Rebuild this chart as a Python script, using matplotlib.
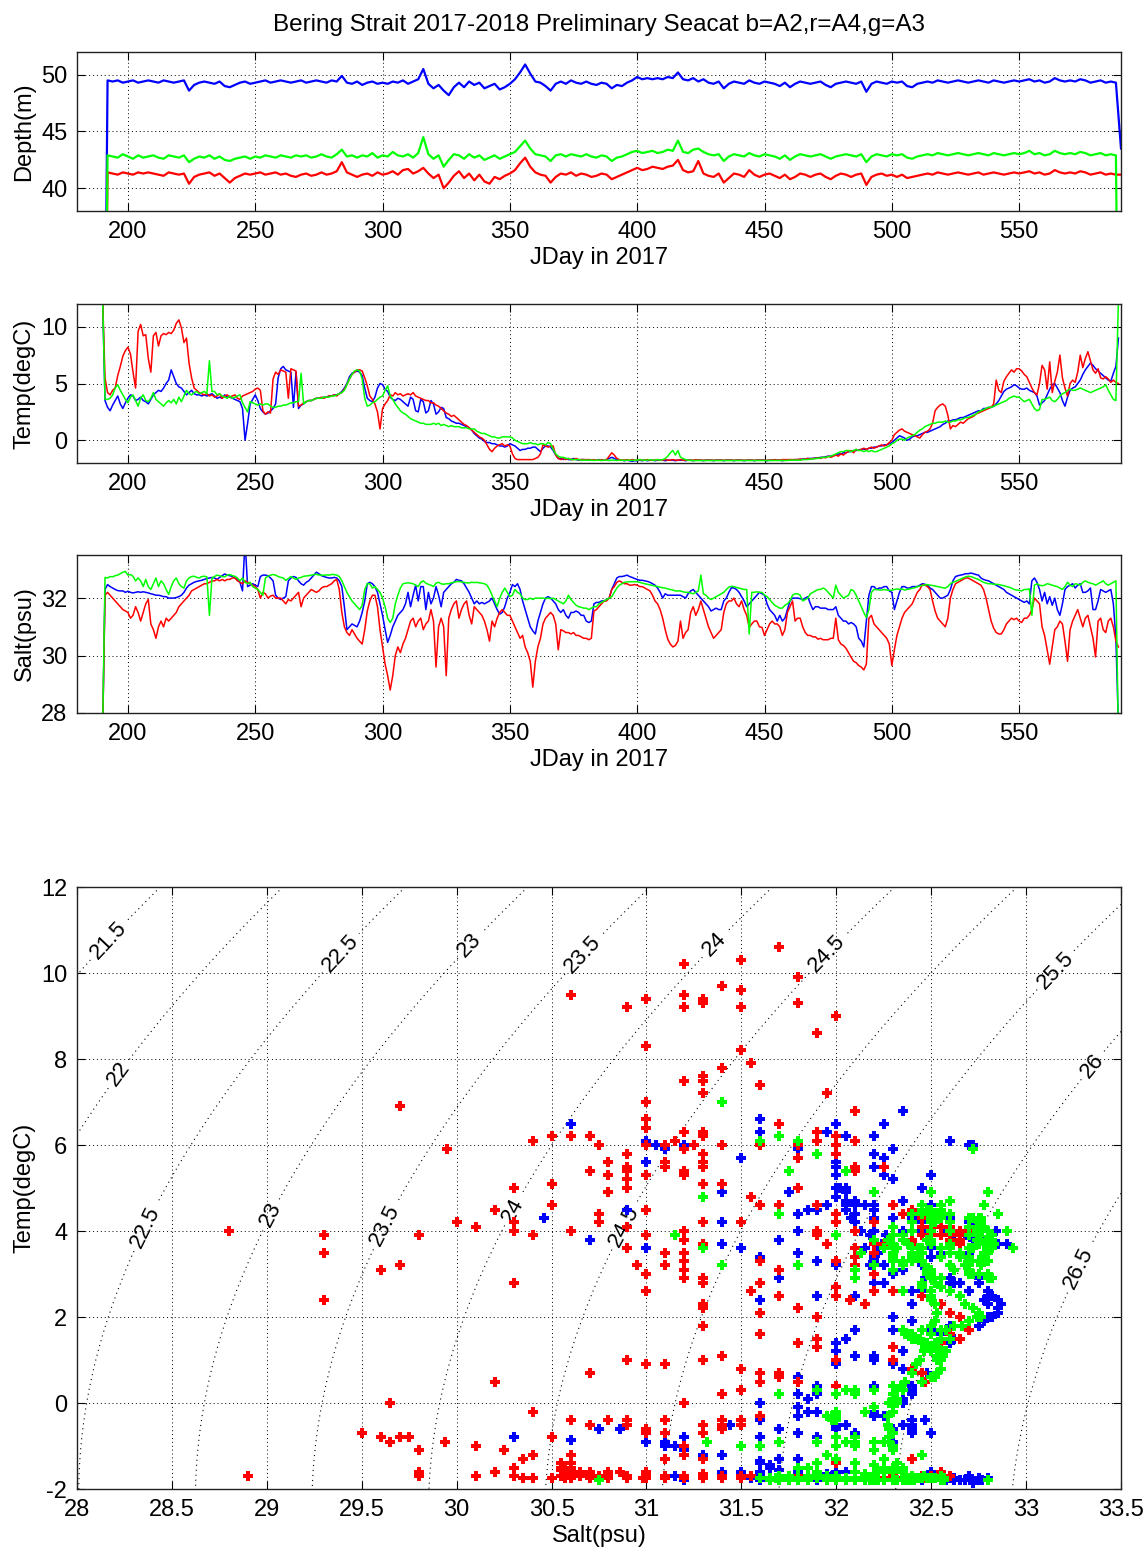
import numpy as np
import matplotlib
matplotlib.use('Agg')
import matplotlib.pyplot as plt

plt.rcParams['font.family'] = ['Liberation Sans', 'DejaVu Sans']
plt.rcParams['axes.unicode_minus'] = False

BLUE = '#0000ff'   # A2
RED = '#ff0000'    # A4
GREEN = '#00ff00'  # A3

TITLE = 'Bering Strait 2017-2018 Preliminary Seacat b=A2,r=A4,g=A3'

# daily samples, JDay 190..589 (first/last = out of water)
days = np.arange(190, 590)
# depth read every 2 days, JDay 190..590
depth_days = np.arange(190, 591, 2)

depth_blue = [
    0.0, 49.5, 49.4, 49.5, 49.3, 49.4, 49.5, 49.3, 49.4, 49.5,
    49.4, 49.3, 49.5, 49.4, 49.3, 49.4, 49.5, 48.6, 49.1, 49.3,
    49.4, 49.3, 49.2, 49.4, 49.0, 48.9, 49.1, 49.3, 49.4, 49.2,
    49.3, 49.4, 49.5, 49.3, 49.4, 49.5, 49.4, 49.3, 49.4, 49.5,
    49.3, 49.4, 49.5, 49.4, 49.3, 49.5, 49.4, 49.9, 49.3, 49.2,
    49.4, 49.1, 49.3, 49.4, 49.2, 49.3, 49.2, 49.4, 49.3, 49.5,
    49.2, 49.4, 49.6, 50.5, 49.2, 48.8, 49.1, 48.6, 48.2, 48.9,
    49.3, 48.9, 49.4, 49.1, 49.3, 48.8, 49.0, 49.2, 48.7, 48.9,
    49.2, 49.6, 50.2, 50.9, 50.1, 49.4, 49.3, 49.0, 48.6, 49.2,
    49.4, 49.2, 49.5, 49.3, 49.2, 49.4, 49.2, 49.1, 49.3, 49.2,
    48.8, 49.1, 49.0, 49.3, 49.5, 49.8, 49.6, 49.7, 49.6, 49.7,
    49.6, 49.8, 49.7, 50.2, 49.6, 49.5, 49.7, 49.4, 49.6, 49.3,
    49.2, 49.4, 48.8, 49.2, 49.4, 49.3, 49.2, 49.5, 49.3, 49.2,
    49.4, 49.3, 49.2, 49.0, 49.3, 48.9, 49.2, 49.4, 49.3, 49.2,
    49.3, 49.4, 49.1, 48.9, 49.2, 49.3, 49.4, 49.3, 49.2, 49.4,
    48.5, 49.2, 49.4, 49.3, 49.2, 49.4, 49.3, 49.4, 49.0, 48.9,
    49.2, 49.3, 49.4, 49.3, 49.5, 49.4, 49.3, 49.4, 49.5, 49.4,
    49.3, 49.4, 49.5, 49.4, 49.3, 49.5, 49.4, 49.3, 49.4, 49.5,
    49.4, 49.5, 49.6, 49.4, 49.5, 49.3, 49.4, 49.7, 49.5, 49.4,
    49.5, 49.4, 49.6, 49.5, 49.3, 49.4, 49.5, 49.3, 49.4, 49.3,
    43.5]

depth_green = [
    0.0, 42.9, 42.8, 42.7, 43.0, 42.8, 42.6, 42.9, 42.7, 42.8,
    42.9, 42.7, 42.6, 42.9, 42.8, 42.7, 42.9, 42.3, 42.6, 42.8,
    42.7, 42.9, 42.6, 42.8, 42.5, 42.4, 42.6, 42.7, 42.8, 42.6,
    42.8, 42.7, 42.9, 42.8, 42.7, 42.9, 42.8, 42.7, 42.9, 42.8,
    42.9, 42.7, 42.8, 43.0, 42.8, 42.7, 43.0, 43.4, 42.8, 42.9,
    42.7, 42.9, 42.8, 43.1, 42.7, 42.9, 42.8, 43.2, 42.9, 42.8,
    43.0, 42.7, 43.1, 44.5, 43.0, 42.6, 42.9, 41.9, 42.5, 43.0,
    42.9, 42.6, 43.0, 42.7, 42.9, 42.5, 42.7, 42.9, 42.6, 42.8,
    43.0, 43.2, 43.7, 44.2, 43.5, 43.0, 42.9, 42.8, 42.4, 42.9,
    43.0, 42.8, 43.0, 42.9, 42.8, 43.0, 42.8, 42.7, 42.9, 42.8,
    42.4, 42.7, 42.8, 43.0, 43.2, 43.3, 43.1, 43.2, 43.3, 43.1,
    43.2, 43.4, 43.3, 44.2, 43.2, 43.1, 43.4, 43.5, 43.2, 43.0,
    42.9, 43.0, 42.4, 42.8, 43.0, 42.9, 42.8, 43.1, 42.9, 42.8,
    43.0, 42.9, 42.8, 42.6, 42.9, 42.5, 42.8, 43.0, 42.9, 42.8,
    42.9, 43.0, 42.8, 42.6, 42.8, 42.9, 43.0, 42.9, 42.8, 43.0,
    42.3, 42.8, 43.0, 42.9, 42.8, 43.0, 42.9, 43.0, 42.7, 42.6,
    42.8, 42.9, 43.0, 42.9, 43.1, 43.0, 42.9, 43.0, 43.1, 43.0,
    42.9, 43.0, 43.1, 43.0, 42.9, 43.1, 43.0, 42.9, 43.0, 43.1,
    43.0, 43.1, 43.3, 43.0, 43.1, 42.9, 43.0, 43.3, 43.1, 43.0,
    43.1, 43.0, 43.2, 43.1, 42.9, 43.0, 43.1, 42.9, 43.0, 42.9,
    0.0]

depth_red = [
    0.0, 41.4, 41.3, 41.2, 41.4, 41.3, 41.2, 41.4, 41.3, 41.4,
    41.3, 41.2, 41.1, 41.4, 41.3, 41.2, 41.3, 40.4, 41.0, 41.2,
    41.3, 41.4, 41.1, 41.3, 40.9, 40.5, 40.9, 41.1, 41.3, 41.2,
    41.3, 41.4, 41.2, 41.3, 41.4, 41.2, 41.3, 41.1, 41.0, 41.2,
    41.3, 41.1, 41.2, 41.4, 41.2, 41.3, 41.5, 42.3, 41.4, 41.2,
    41.0, 41.2, 41.3, 41.1, 41.4, 41.2, 41.3, 41.5, 41.2, 41.6,
    41.7, 41.3, 41.5, 41.8, 41.3, 40.9, 41.2, 40.0, 40.5, 41.1,
    41.5, 40.9, 41.3, 40.7, 41.2, 40.6, 40.4, 41.0, 40.8, 41.1,
    41.3, 41.6, 42.2, 42.7, 41.9, 41.4, 41.2, 41.1, 40.5, 41.0,
    41.3, 41.2, 41.4, 41.1, 41.3, 41.2, 41.0, 41.1, 41.3, 41.2,
    40.8, 41.0, 41.2, 41.4, 41.6, 41.8, 41.6, 41.7, 41.9, 41.8,
    41.7, 41.9, 42.0, 42.5, 41.6, 41.4, 41.5, 42.4, 41.3, 41.1,
    41.0, 41.3, 40.5, 40.9, 41.3, 41.2, 41.0, 41.6, 41.2, 41.0,
    41.2, 41.3, 41.1, 40.9, 41.2, 40.8, 41.0, 41.3, 41.2, 41.0,
    41.2, 41.3, 41.0, 40.8, 41.1, 41.3, 41.2, 41.0, 41.2, 41.3,
    40.3, 41.0, 41.2, 41.3, 41.1, 41.2, 41.0, 41.2, 40.9, 41.0,
    41.1, 41.2, 41.3, 41.2, 41.4, 41.3, 41.2, 41.3, 41.4, 41.3,
    41.2, 41.3, 41.4, 41.2, 41.3, 41.4, 41.3, 41.2, 41.3, 41.4,
    41.3, 41.4, 41.5, 41.3, 41.4, 41.2, 41.3, 41.6, 41.4, 41.3,
    41.4, 41.3, 41.5, 41.4, 41.2, 41.3, 41.4, 41.2, 41.3, 41.2,
    41.2]

temp_blue = [
    13.0, 3.5, 2.9, 2.6, 3.1, 3.5, 3.9, 3.2, 2.8, 3.3,
    3.7, 4.0, 3.9, 3.5, 3.6, 3.8, 3.5, 3.4, 3.2, 3.6,
    4.0, 4.2, 4.4, 4.3, 4.6, 5.0, 5.3, 6.2, 5.6, 5.0,
    4.7, 4.6, 4.3, 4.0, 4.2, 4.4, 4.1, 4.0, 4.0, 3.9,
    4.0, 3.9, 4.0, 4.1, 3.9, 3.7, 3.8, 3.7, 4.0, 3.8,
    3.8, 3.7, 3.6, 3.5, 3.4, 2.8, 0.0, 1.5, 3.2, 3.6,
    4.0, 3.5, 2.8, 2.5, 2.3, 2.4, 2.6, 2.8, 3.2, 5.5,
    6.3, 6.5, 6.2, 6.1, 6.0, 2.9, 6.0, 2.8, 3.1, 3.2,
    3.4, 3.5, 3.5, 3.6, 3.7, 3.7, 3.7, 3.8, 3.8, 3.9,
    3.9, 4.0, 4.0, 4.1, 4.3, 4.6, 5.0, 5.6, 5.9, 6.0,
    6.1, 6.0, 5.7, 4.6, 3.7, 3.5, 3.4, 3.8, 4.6, 5.0,
    4.9, 4.5, 4.3, 3.8, 3.6, 3.5, 3.7, 3.6, 3.4, 3.2,
    3.0, 3.8, 3.6, 2.6, 2.5, 3.6, 3.4, 2.4, 2.6, 3.5,
    3.2, 2.3, 2.5, 2.9, 2.8, 2.0, 1.9, 1.7, 1.6, 1.5,
    1.5, 1.4, 1.3, 1.2, 1.1, 0.9, 0.6, 0.4, 0.2, 0.1,
    -0.1, -0.2, -0.2, -0.3, -0.3, -0.4, -0.5, -0.5, -0.6, -0.5,
    -0.3, -0.4, -0.5, -0.7, -0.9, -0.8, -0.8, -0.7, -0.7, -0.6,
    -0.6, -0.8, -1.0, -0.7, -0.5, -0.5, -0.6, -0.9, -1.3, -1.6,
    -1.6, -1.7, -1.6, -1.7, -1.7, -1.6, -1.7, -1.75, -1.7, -1.7,
    -1.75, -1.7, -1.75, -1.75, -1.75, -1.7, -1.75, -1.75, -1.7, -1.6,
    -1.5, -1.6, -1.7, -1.75, -1.75, -1.8, -1.75, -1.8, -1.85, -1.8,
    -1.8, -1.75, -1.8, -1.75, -1.8, -1.75, -1.75, -1.8, -1.75, -1.75,
    -1.75, -1.8, -1.75, -1.75, -1.75, -1.8, -1.75, -1.75, -1.75, -1.8,
    -1.75, -1.75, -1.8, -1.75, -1.75, -1.75, -1.8, -1.75, -1.75, -1.75,
    -1.8, -1.75, -1.75, -1.75, -1.8, -1.75, -1.75, -1.75, -1.8, -1.75,
    -1.75, -1.75, -1.8, -1.75, -1.75, -1.75, -1.8, -1.75, -1.75, -1.75,
    -1.75, -1.8, -1.75, -1.75, -1.75, -1.75, -1.75, -1.8, -1.75, -1.75,
    -1.75, -1.75, -1.7, -1.7, -1.7, -1.65, -1.65, -1.6, -1.6, -1.6,
    -1.55, -1.55, -1.5, -1.5, -1.45, -1.4, -1.4, -1.35, -1.3, -1.2,
    -1.2, -1.1, -1.1, -1.0, -1.0, -0.9, -0.9, -0.85, -0.8, -0.8,
    -0.8, -0.7, -0.7, -0.6, -0.6, -0.5, -0.5, -0.4, -0.4, -0.3,
    -0.2, 0.0, 0.2, 0.4, 0.3, 0.2, 0.0, 0.1, 0.3, 0.4,
    0.4, 0.5, 0.6, 0.7, 0.7, 0.8, 0.9, 1.0, 1.1, 1.2,
    1.4, 1.5, 1.7, 1.7, 1.8, 1.8, 1.9, 2.0, 2.0, 2.1,
    2.2, 2.3, 2.4, 2.5, 2.6, 2.6, 2.8, 2.8, 2.9, 2.9,
    3.0, 3.2, 3.5, 3.9, 4.3, 4.5, 4.6, 4.7, 4.9, 4.8,
    4.6, 4.5, 4.5, 4.6, 4.4, 4.3, 4.2, 3.9, 3.1, 3.3,
    3.5, 4.0, 4.5, 4.9, 5.0, 4.6, 4.2, 3.5, 3.0, 3.8,
    4.4, 4.6, 4.7, 5.0, 5.3, 5.8, 6.2, 6.5, 6.8, 6.6,
    6.3, 6.1, 5.9, 5.7, 5.5, 5.3, 5.2, 5.9, 6.5, 9.0]

temp_red = [
    13.0, 5.5, 4.2, 4.0, 4.4, 4.6, 5.7, 6.5, 7.4, 7.9,
    8.2, 7.6, 6.0, 4.6, 9.6, 10.2, 9.2, 9.3, 7.2, 6.0,
    9.2, 9.5, 8.3, 9.2, 9.4, 9.3, 9.5, 9.4, 9.7, 10.3,
    10.6, 9.9, 8.6, 9.0, 6.8, 5.5, 4.6, 4.4, 4.2, 4.1,
    4.0, 4.1, 3.9, 4.0, 3.8, 3.9, 4.1, 3.7, 3.9, 4.0,
    3.8, 3.9, 4.0, 3.7, 3.6, 3.9, 4.0, 4.1, 4.2, 4.3,
    4.5, 4.6, 4.4, 2.6, 2.3, 2.5, 2.4, 5.4, 6.0, 5.8,
    6.2, 6.1, 6.0, 3.7, 6.3, 6.2, 6.1, 3.0, 3.1, 3.3,
    3.4, 3.5, 3.5, 3.6, 3.7, 3.7, 3.8, 3.7, 3.8, 3.9,
    3.9, 4.0, 3.9, 4.1, 4.2, 4.5, 4.9, 5.4, 5.8, 6.0,
    6.2, 6.2, 6.1, 5.5, 4.8, 3.9, 3.6, 3.2, 2.5, 1.0,
    2.8, 3.2, 3.5, 4.0, 3.9, 4.2, 4.0, 4.1, 3.9, 4.0,
    4.1, 4.0, 4.2, 3.9, 3.8, 3.7, 3.6, 3.5, 3.5, 3.3,
    3.3, 3.1, 3.0, 2.8, 2.6, 2.4, 2.3, 2.1, 2.2, 2.0,
    1.8, 1.6, 1.4, 1.3, 1.1, 0.9, 0.7, 0.5, 0.3, 0.2,
    0.0, -0.4, -0.8, -1.0, -0.7, -0.5, -0.4, -0.3, -0.5, -0.4,
    -0.5, -1.2, -1.6, -1.7, -1.7, -1.7, -1.7, -1.7, -1.7, -1.7,
    -1.6, -1.5, -1.2, -0.4, -0.5, -0.6, -0.5, -0.5, -1.3, -1.6,
    -1.7, -1.6, -1.7, -1.6, -1.7, -1.7, -1.6, -1.7, -1.7, -1.7,
    -1.7, -1.7, -1.75, -1.7, -1.75, -1.75, -1.7, -1.75, -1.7, -1.4,
    -1.1, -1.3, -1.6, -1.7, -1.75, -1.75, -1.7, -1.75, -1.7, -1.75,
    -1.75, -1.7, -1.75, -1.75, -1.7, -1.75, -1.75, -1.75, -1.7, -1.75,
    -1.75, -1.7, -1.75, -1.75, -1.7, -1.75, -1.75, -1.7, -1.75, -1.75,
    -1.75, -1.75, -1.75, -1.7, -1.75, -1.75, -1.75, -1.75, -1.75, -1.75,
    -1.75, -1.75, -1.75, -1.75, -1.75, -1.75, -1.75, -1.75, -1.75, -1.75,
    -1.75, -1.75, -1.75, -1.75, -1.75, -1.75, -1.75, -1.75, -1.75, -1.75,
    -1.75, -1.75, -1.75, -1.75, -1.7, -1.75, -1.75, -1.7, -1.7, -1.7,
    -1.7, -1.7, -1.7, -1.7, -1.65, -1.7, -1.65, -1.6, -1.65, -1.6,
    -1.6, -1.55, -1.6, -1.5, -1.55, -1.4, -1.5, -1.4, -1.3, -1.4,
    -1.2, -1.3, -1.1, -1.0, -0.9, -1.1, -0.8, -0.9, -0.8, -0.7,
    -0.8, -0.7, -0.6, -0.7, -0.6, -0.5, -0.4, -0.5, -0.4, -0.2,
    0.0, 0.5, 0.7, 0.9, 1.0, 0.8, 0.7, 0.6, 0.5, 0.4,
    0.3, 0.2, 0.5, 0.7, 0.8, 1.0, 1.5, 2.6, 2.9, 3.1,
    3.2, 3.0, 2.2, 1.0, 1.3, 1.2, 1.4, 1.6, 1.5, 1.7,
    1.9, 2.0, 2.1, 2.3, 2.4, 2.5, 2.6, 2.7, 2.8, 2.9,
    3.2, 5.3, 4.4, 4.2, 5.2, 5.6, 5.9, 6.2, 6.0, 6.3,
    6.3, 6.1, 5.8, 5.6, 5.1, 4.6, 4.2, 4.0, 5.0, 6.6,
    6.2, 4.5, 6.9, 4.2, 5.2, 6.0, 7.5, 5.5, 4.6, 3.9,
    5.0, 5.3, 5.1, 6.0, 7.5, 6.4, 7.2, 7.8, 7.0, 6.2,
    5.9, 6.3, 5.5, 5.4, 5.6, 5.4, 5.1, 5.3, 5.1, 5.0]

temp_green = [
    13.0, 3.6, 3.6, 3.7, 4.0, 4.6, 4.9, 4.4, 4.0, 3.6,
    3.3, 3.8, 4.0, 3.5, 3.0, 3.7, 4.0, 3.5, 3.4, 3.7,
    4.2, 3.6, 3.4, 3.2, 3.0, 3.3, 3.5, 3.3, 3.6, 3.2,
    3.8, 3.4, 3.9, 4.4, 4.1, 4.0, 4.2, 4.3, 4.1, 4.2,
    4.3, 4.1, 7.0, 4.3, 4.3, 4.0, 4.1, 3.9, 3.8, 3.7,
    3.9, 3.7, 3.8, 3.9, 4.0, 3.3, 2.9, 2.5, 3.4, 3.3,
    3.2, 3.1, 3.2, 3.1, 3.2, 3.2, 3.0, 2.9, 2.9, 3.0,
    3.0, 3.1, 3.1, 3.2, 3.3, 3.3, 3.4, 3.4, 5.9, 3.2,
    3.4, 3.5, 3.5, 3.6, 3.7, 3.7, 3.7, 3.8, 3.8, 3.8,
    3.9, 3.9, 4.0, 4.1, 4.2, 4.4, 4.9, 5.4, 5.8, 6.1,
    6.2, 6.1, 5.4, 3.7, 3.0, 3.1, 3.3, 3.4, 3.6, 3.8,
    3.9, 4.4, 4.8, 3.9, 3.6, 3.2, 2.9, 2.6, 2.4, 2.3,
    2.1, 1.9, 1.8, 1.7, 1.6, 1.5, 1.5, 1.4, 1.4, 1.4,
    1.5, 1.4, 1.5, 1.3, 1.4, 1.3, 1.2, 1.3, 1.2, 1.2,
    1.2, 1.1, 1.1, 1.1, 1.0, 1.0, 1.0, 0.8, 0.7, 0.6,
    0.6, 0.5, 0.4, 0.3, 0.3, 0.2, 0.2, 0.3, 0.3, 0.3,
    0.3, 0.2, 0.0, -0.1, -0.2, -0.3, -0.3, -0.3, -0.2, -0.3,
    -0.3, -0.4, -0.3, -0.3, -0.4, -0.2, -0.3, -0.8, -1.2, -1.4,
    -1.5, -1.5, -1.6, -1.6, -1.7, -1.7, -1.7, -1.7, -1.75, -1.75,
    -1.75, -1.75, -1.75, -1.78, -1.75, -1.75, -1.78, -1.75, -1.75, -1.78,
    -1.75, -1.75, -1.78, -1.75, -1.75, -1.78, -1.75, -1.75, -1.78, -1.75,
    -1.75, -1.7, -1.75, -1.75, -1.75, -1.7, -1.75, -1.75, -1.7, -1.75,
    -1.7, -1.6, -1.4, -1.1, -0.9, -1.3, -0.9, -1.5, -1.6, -1.7,
    -1.75, -1.78, -1.78, -1.78, -1.78, -1.78, -1.78, -1.78, -1.78, -1.78,
    -1.78, -1.78, -1.78, -1.78, -1.78, -1.78, -1.78, -1.78, -1.78, -1.78,
    -1.78, -1.78, -1.78, -1.78, -1.78, -1.78, -1.78, -1.78, -1.78, -1.78,
    -1.78, -1.78, -1.78, -1.78, -1.78, -1.78, -1.78, -1.78, -1.78, -1.78,
    -1.75, -1.75, -1.75, -1.75, -1.75, -1.7, -1.7, -1.7, -1.65, -1.65,
    -1.6, -1.6, -1.55, -1.5, -1.5, -1.45, -1.4, -1.3, -1.2, -1.1,
    -1.0, -1.0, -0.9, -0.9, -1.0, -0.9, -0.8, -0.9, -0.9, -1.0,
    -0.9, -1.0, -0.9, -1.0, -1.0, -0.9, -0.8, -0.7, -0.6, -0.5,
    -0.3, -0.2, 0.0, 0.1, 0.1, 0.0, 0.2, 0.3, 0.4, 0.5,
    0.7, 0.9, 1.0, 1.2, 1.3, 1.4, 1.5, 1.5, 1.6, 1.6,
    1.6, 1.7, 1.6, 1.6, 1.7, 1.7, 1.8, 1.8, 1.9, 2.0,
    2.0, 2.1, 2.2, 2.3, 2.5, 2.6, 2.7, 2.8, 2.9, 2.9,
    3.0, 3.1, 3.2, 3.3, 3.4, 3.5, 3.7, 3.8, 3.9, 3.8,
    3.8, 3.6, 3.4, 3.5, 3.6, 3.2, 2.8, 2.6, 2.7, 3.6,
    3.6, 3.7, 3.8, 3.5, 3.4, 3.6, 3.9, 4.1, 4.2, 4.4,
    4.5, 4.4, 4.4, 4.5, 4.6, 4.5, 4.4, 4.3, 4.2, 4.3,
    4.4, 4.5, 4.6, 4.7, 4.9, 4.4, 4.0, 3.6, 3.5, 12.5]

salt_blue = [
    27.0, 32.3, 32.47, 32.4, 32.35, 32.3, 32.26, 32.25, 32.25, 32.2,
    32.24, 32.2, 32.18, 32.2, 32.22, 32.2, 32.22, 32.2, 32.18, 32.15,
    32.13, 32.1, 32.1, 32.08, 32.05, 32.05, 32.0, 32.0, 32.0, 32.02,
    32.05, 32.1, 32.2, 32.35, 32.45, 32.5, 32.55, 32.58, 32.6, 32.62,
    32.65, 32.68, 32.7, 32.72, 32.7, 32.65, 32.72, 32.78, 32.84, 32.8,
    32.78, 32.75, 32.7, 32.65, 32.55, 32.25, 34.0, 32.4, 32.45, 32.5,
    32.45, 32.4, 32.75, 32.8, 32.8, 32.78, 32.7, 32.6, 32.1, 32.0,
    31.95, 32.0, 32.05, 32.6, 32.7, 32.75, 32.72, 32.6, 32.5, 32.45,
    32.55, 32.6, 32.7, 32.8, 32.9, 32.85, 32.78, 32.75, 32.72, 32.7,
    32.7, 32.72, 32.7, 32.6, 32.4, 31.7, 30.9, 31.0, 31.1, 31.05,
    31.0, 31.2, 31.5, 31.9, 32.5, 32.55, 32.5, 32.4, 32.2, 31.8,
    31.4, 30.9, 30.46, 30.7, 31.0, 31.2, 31.4, 31.5, 31.6, 31.8,
    32.2, 31.7, 32.1, 32.45, 31.9, 32.4, 32.4, 31.6, 32.2, 31.8,
    32.0, 32.4, 32.1, 31.7, 32.2, 32.3, 32.4, 32.5, 32.55, 32.65,
    32.62, 32.6, 32.5, 32.35, 32.2, 32.0, 31.8, 31.9, 31.8, 31.85,
    31.8, 31.85, 31.9, 32.0, 31.8, 31.6, 31.44, 31.5, 31.7, 32.0,
    32.2, 32.47, 32.4, 32.5, 32.3, 31.9, 31.6, 31.3, 31.0, 30.86,
    30.75, 31.2, 31.5, 31.8, 32.0, 32.05, 32.0, 31.9, 31.8, 31.6,
    31.5, 31.6, 31.4, 31.3, 31.5, 31.5, 31.55, 31.5, 31.4, 31.4,
    31.2, 31.15, 31.2, 31.8, 31.85, 31.85, 31.9, 31.9, 31.95, 32.0,
    32.3, 32.5, 32.7, 32.75, 32.75, 32.77, 32.8, 32.75, 32.72, 32.68,
    32.65, 32.62, 32.62, 32.6, 32.58, 32.55, 32.5, 32.45, 32.35, 32.2,
    32.0, 32.15, 32.1, 32.1, 32.1, 32.1, 32.1, 32.1, 32.05, 32.0,
    32.15, 32.25, 32.3, 32.2, 32.1, 32.0, 31.9, 31.8, 31.7, 31.55,
    31.6, 31.65, 31.6, 31.6, 31.9, 32.0, 32.2, 32.36, 32.35, 32.3,
    32.2, 32.05, 31.9, 31.7, 31.8, 31.9, 32.0, 32.1, 32.2, 32.15,
    32.1, 31.8, 31.6, 31.5, 31.4, 31.2, 31.4, 31.2, 31.3, 31.6,
    31.9, 32.0, 32.0, 32.0, 31.98, 31.95, 32.0, 32.05, 31.8, 31.6,
    31.7, 31.7, 31.65, 31.65, 31.65, 31.6, 31.6, 31.6, 31.7, 31.4,
    31.3, 31.2, 31.2, 31.1, 31.15, 31.1, 31.0, 30.6, 30.5, 30.3,
    31.2, 32.1, 32.4, 32.4, 32.3, 32.35, 32.35, 32.4, 32.4, 32.25,
    32.2, 31.6, 31.9, 32.2, 32.4, 32.4, 32.35, 32.35, 32.4, 32.4,
    32.4, 32.45, 32.5, 32.48, 32.45, 32.35, 32.3, 32.2, 32.1, 32.0,
    32.0, 32.05, 32.1, 32.3, 32.6, 32.75, 32.78, 32.8, 32.82, 32.85,
    32.85, 32.87, 32.85, 32.82, 32.8, 32.7, 32.65, 32.62, 32.6, 32.55,
    32.5, 32.45, 32.4, 32.35, 32.3, 32.2, 32.15, 32.1, 32.05, 32.0,
    31.95, 31.9, 31.85, 31.9, 31.8, 32.6, 32.7, 32.55, 32.3, 31.9,
    32.2, 31.8, 32.05, 31.75, 32.0, 31.6, 31.4, 31.8, 32.3, 32.4,
    32.45, 32.5, 32.35, 32.45, 32.5, 32.2, 32.2, 32.25, 32.35, 31.6,
    31.6, 31.9, 32.3, 32.25, 32.2, 32.25, 32.3, 31.8, 30.6, 27.5]

salt_red = [
    27.0, 32.1, 32.2, 32.1, 32.0, 31.9, 31.8, 31.7, 31.6, 31.55,
    31.5, 31.3, 31.4, 31.7, 31.5, 31.2, 31.5, 31.8, 31.95, 31.1,
    30.9, 30.6, 31.0, 31.2, 31.0, 31.3, 31.2, 31.3, 31.4, 31.5,
    31.7, 31.8, 31.9, 32.0, 32.1, 32.25, 32.3, 32.35, 32.4, 32.45,
    32.5, 32.5, 32.55, 32.6, 32.6, 32.65, 32.6, 32.65, 32.6, 32.65,
    32.65, 32.7, 32.7, 32.6, 32.55, 32.5, 32.6, 32.55, 32.5, 32.45,
    32.4, 32.3, 32.0, 32.2, 32.15, 32.0, 32.07, 32.1, 32.0, 32.0,
    32.0, 31.9, 31.8, 31.95, 31.9, 32.0, 32.1, 32.2, 31.7, 32.0,
    32.1, 32.2, 32.3, 32.25, 32.2, 32.25, 32.35, 32.4, 32.4, 32.45,
    32.5, 32.6, 32.65, 32.3, 31.5, 31.0, 30.8, 30.7, 30.9, 30.75,
    30.6, 30.5, 30.4, 30.9, 31.55, 31.9, 32.1, 32.1, 31.7, 30.9,
    30.3, 29.7, 29.3, 28.8, 29.3, 30.0, 30.3, 30.1, 30.4, 30.6,
    30.9, 31.2, 31.3, 31.0, 31.2, 31.3, 30.9, 31.1, 31.2, 31.6,
    31.2, 29.6, 31.0, 31.3, 31.0, 29.3, 31.3, 31.6, 31.8, 31.9,
    31.3, 31.6, 31.8, 31.9, 31.4, 31.1, 31.7, 31.6, 31.5, 31.4,
    31.2, 30.9, 30.5, 31.2, 31.0, 31.3, 31.5, 31.6, 31.5, 31.4,
    31.4, 31.2, 31.0, 30.8, 30.6, 30.7, 30.3, 30.1, 29.8, 28.9,
    29.8, 30.3, 30.6, 31.1, 31.3, 31.4, 31.5, 31.4, 31.1, 30.2,
    30.9, 30.86, 30.8, 30.8, 30.75, 30.8, 30.7, 30.7, 30.65, 30.6,
    30.6, 30.55, 30.6, 31.55, 31.6, 31.7, 31.8, 31.9, 31.9, 32.0,
    32.3, 32.4, 32.55, 32.6, 32.55, 32.5, 32.5, 32.45, 32.45, 32.47,
    32.45, 32.4, 32.4, 32.35, 32.3, 32.25, 32.1, 31.9, 31.8, 31.6,
    31.3, 30.9, 30.57, 30.4, 30.3, 30.35, 30.5, 31.2, 30.6, 30.8,
    30.9, 31.5, 31.7, 31.4, 31.6, 31.9, 31.6, 31.3, 31.0, 30.8,
    30.6, 30.7, 30.8, 30.9, 31.5, 31.8, 31.9, 31.9, 32.0, 31.8,
    31.7, 31.9, 31.6, 31.4, 30.98, 31.1, 31.2, 31.2, 31.0, 30.98,
    30.7, 30.9, 31.1, 31.2, 31.1, 31.1, 31.0, 30.7, 30.9, 31.5,
    31.7, 31.9, 31.2, 31.3, 31.3, 31.0, 30.8, 30.7, 30.7, 30.65,
    30.65, 30.57, 30.6, 30.55, 30.55, 30.55, 30.6, 30.6, 31.3, 30.55,
    30.4, 30.35, 30.25, 30.1, 29.94, 29.8, 29.75, 29.65, 29.6, 29.5,
    29.7, 31.3, 31.4, 31.1, 31.0, 30.9, 30.8, 30.7, 30.6, 30.4,
    29.65, 30.2, 30.7, 31.0, 31.3, 31.5, 31.6, 31.7, 31.8, 32.0,
    32.2, 32.3, 32.47, 32.45, 32.4, 32.3, 31.9, 31.55, 31.3, 31.2,
    31.1, 31.0, 31.3, 32.0, 32.3, 32.5, 32.55, 32.6, 32.65, 32.7,
    32.7, 32.65, 32.6, 32.55, 32.5, 32.45, 32.3, 32.0, 31.6, 31.2,
    30.95, 30.8, 30.75, 30.75, 30.9, 31.1, 31.2, 31.3, 31.25, 31.3,
    31.2, 31.15, 31.3, 31.3, 31.4, 31.6, 32.0, 31.9, 31.8, 31.0,
    30.7, 30.2, 29.7, 30.3, 30.9, 31.0, 31.2, 31.1, 30.5, 29.8,
    30.9, 31.2, 31.4, 31.6, 31.3, 31.0, 31.3, 31.4, 31.0, 30.6,
    29.95, 31.2, 31.3, 30.9, 30.8, 31.2, 31.3, 31.0, 30.5, 30.3]

salt_green = [
    27.0, 32.72, 32.7, 32.75, 32.74, 32.78, 32.8, 32.85, 32.9, 32.93,
    32.8, 32.82, 32.76, 32.6, 32.7, 32.6, 32.4, 32.65, 32.4, 32.3,
    32.5, 32.7, 32.4, 32.6, 32.5, 32.3, 32.13, 32.4, 32.6, 32.7,
    32.5, 32.4, 32.35, 32.6, 32.7, 32.75, 32.76, 32.72, 32.7, 32.75,
    32.76, 32.74, 31.4, 32.7, 32.75, 32.8, 32.78, 32.75, 32.74, 32.8,
    32.82, 32.78, 32.76, 32.7, 32.6, 32.7, 32.55, 32.5, 32.55, 32.4,
    32.35, 32.3, 32.2, 32.1, 32.7, 32.76, 32.8, 32.82, 32.8, 32.75,
    32.72, 32.7, 32.62, 32.68, 32.75, 32.7, 32.65, 32.7, 32.72, 32.76,
    32.77, 32.78, 32.8, 32.82, 32.83, 32.8, 32.8, 32.79, 32.81, 32.8,
    32.82, 32.82, 32.8, 32.75, 32.6, 32.4, 32.2, 32.05, 31.9, 31.8,
    31.7, 31.6, 31.75, 32.3, 32.5, 32.5, 32.35, 32.4, 32.3, 32.2,
    32.0, 31.7, 31.3, 31.15, 31.3, 31.8, 32.1, 32.35, 32.5, 32.52,
    32.53, 32.52, 32.5, 32.45, 32.4, 32.55, 32.6, 32.52, 32.48, 32.45,
    32.4, 32.52, 32.55, 32.5, 32.48, 32.5, 32.5, 32.53, 32.55, 32.57,
    32.58, 32.56, 32.55, 32.53, 32.53, 32.55, 32.54, 32.55, 32.53, 32.52,
    32.5, 32.45, 32.3, 32.1, 31.9, 31.7, 32.0, 32.2, 32.35, 32.2,
    32.05, 32.1, 32.3, 32.2, 32.15, 32.0, 31.95, 31.95, 32.0, 31.95,
    32.0, 32.0, 32.0, 32.0, 31.98, 32.0, 31.98, 32.0, 31.95, 31.9,
    31.85, 31.8, 31.9, 32.1, 31.95, 31.85, 31.75, 31.7, 31.68, 31.65,
    31.65, 31.6, 31.65, 31.7, 31.7, 31.8, 31.85, 31.9, 31.95, 32.0,
    32.05, 32.2, 32.35, 32.45, 32.5, 32.55, 32.56, 32.57, 32.57, 32.57,
    32.57, 32.55, 32.52, 32.5, 32.48, 32.46, 32.44, 32.42, 32.4, 32.38,
    32.36, 32.35, 32.32, 32.3, 32.28, 32.25, 32.25, 32.25, 32.22, 32.2,
    32.2, 32.18, 32.15, 32.2, 32.25, 32.8, 32.15, 32.1, 32.0, 31.95,
    32.0, 32.05, 32.1, 32.15, 32.2, 32.3, 32.38, 32.41, 32.4, 32.37,
    32.35, 32.32, 32.3, 32.3, 30.75, 32.2, 32.2, 32.22, 32.2, 32.2,
    32.1, 32.05, 31.95, 31.85, 31.75, 31.7, 31.65, 31.65, 31.75, 31.8,
    31.9, 32.1, 32.15, 32.15, 32.1, 31.9, 31.95, 32.0, 32.15, 32.2,
    32.25, 32.3, 32.3, 32.35, 32.3, 32.2, 32.1, 32.0, 32.45, 32.2,
    32.1, 32.0, 32.05, 32.1, 32.3, 32.25, 32.1, 31.9, 31.7, 31.5,
    31.32, 31.6, 32.2, 32.3, 32.3, 32.28, 32.28, 32.3, 32.28, 32.27,
    32.27, 32.3, 32.32, 32.3, 32.32, 32.28, 32.3, 32.32, 32.34, 32.36,
    32.4, 32.42, 32.44, 32.46, 32.47, 32.45, 32.44, 32.42, 32.4, 32.38,
    32.36, 32.35, 32.4, 32.5, 32.55, 32.58, 32.62, 32.66, 32.7, 32.74,
    32.76, 32.75, 32.72, 32.68, 32.65, 32.6, 32.55, 32.52, 32.5, 32.5,
    32.48, 32.48, 32.47, 32.45, 32.43, 32.4, 32.38, 32.35, 32.3, 32.28,
    32.27, 32.25, 32.3, 32.3, 32.32, 31.4, 32.45, 32.5, 32.45, 32.43,
    32.45, 32.5, 32.48, 32.45, 32.42, 32.4, 32.35, 32.3, 32.4, 32.55,
    32.45, 32.4, 32.5, 32.48, 32.45, 32.55, 32.6, 32.55, 32.52, 32.5,
    32.45, 32.5, 32.55, 32.6, 32.5, 32.45, 32.5, 32.55, 32.6, 27.0]

jday_ticks = [200, 250, 300, 350, 400, 450, 500, 550]
depth_ticks = [40, 45, 50]
temp_ticks = [0, 5, 10]
salt_ticks = [28, 30, 32]
ts_salt_ticks = [28, 28.5, 29, 29.5, 30, 30.5, 31, 31.5, 32, 32.5, 33, 33.5]
ts_temp_ticks = [-2, 0, 2, 4, 6, 8, 10, 12]
sigma_levels = [21.5, 22, 22.5, 23, 23.5, 24, 24.5, 25, 25.5, 26, 26.5]
# where the contour labels sit (salt, temp)
sigma_label_pos = [(28.18, 10.7), (28.24, 7.58), (29.40, 10.42), (28.37, 4.07),
                   (30.08, 10.6), (29.04, 4.33), (30.68, 10.37), (29.65, 4.07),
                   (31.36, 10.65), (30.29, 4.5), (31.97, 10.37), (30.89, 4.1),
                   (33.17, 10.0), (33.36, 7.8), (33.29, 3.1)]


def sigma_t(S, T):
    # UNESCO 1980 equation of state at the surface
    rw = (999.842594 + 6.793952e-2 * T - 9.095290e-3 * T**2 + 1.001685e-4 * T**3
          - 1.120083e-6 * T**4 + 6.536332e-9 * T**5)
    A = 8.24493e-1 - 4.0899e-3 * T + 7.6438e-5 * T**2 - 8.2467e-7 * T**3 + 5.3875e-9 * T**4
    B = -5.72466e-3 + 1.0227e-4 * T - 1.6546e-6 * T**2
    return rw + A * S + B * S**1.5 + 4.8314e-4 * S**2 - 1000.0


def style(ax):
    ax.tick_params(direction='in', top=True, right=True, length=6, width=0.8,
                   labelsize=17, pad=7)
    ax.grid(True, color='k', linestyle=(0, (1, 3)), linewidth=0.7)
    for s in ax.spines.values():
        s.set_linewidth(1.0)
        s.set_color('#222222')


W, H = 1144, 1552
fig = plt.figure(figsize=(W / 100, H / 100), dpi=100)
fig.patch.set_facecolor('white')


def add_ax(top, bottom):
    return fig.add_axes([77 / W, 1 - bottom / H, 1044 / W, (bottom - top) / H])


# title centred over the axes, not the figure
fig.text((77 + 1044 / 2) / W, 1 - 25 / H, TITLE, ha='center', va='center', fontsize=17.5)

panels = [
    (add_ax(52, 211), depth_days, (depth_blue, depth_red, depth_green), (38, 52), depth_ticks, 'Depth(m)', 1.6),
    (add_ax(304, 463), days, (temp_blue, temp_red, temp_green), (-2, 12), temp_ticks, 'Temp(degC)', 1.1),
    (add_ax(555, 713), days, (salt_blue, salt_red, salt_green), (28, 33.5), salt_ticks, 'Salt(psu)', 1.1),
]
for ax, x, ys, ylim, yt, ylab, lw in panels:
    for y, c in zip(ys, (BLUE, RED, GREEN)):
        ax.plot(x, y, color=c, linewidth=lw)
    ax.set_xlim(180, 590)
    ax.set_ylim(*ylim)
    ax.set_xticks(jday_ticks)
    ax.set_yticks(yt)
    ax.set_xlabel('JDay in 2017', fontsize=17, labelpad=3)
    ax.set_ylabel(ylab, fontsize=17, labelpad=4)
    style(ax)

# T-S diagram with sigma-t contours
ax4 = add_ax(887, 1489)
sg = np.linspace(28, 33.5, 300)
tg = np.linspace(-2, 12, 300)
SS, TT = np.meshgrid(sg, tg)
cs = ax4.contour(SS, TT, sigma_t(SS, TT), levels=sigma_levels, colors='k',
                 linewidths=0.8, zorder=1)
cs.set_linestyle((0, (1, 3.5)))
ax4.clabel(cs, fontsize=16, fmt='%g', inline=True, manual=sigma_label_pos)

for s, t, c in ((salt_blue, temp_blue, BLUE), (salt_red, temp_red, RED),
                (salt_green, temp_green, GREEN)):
    ax4.plot(s, t, linestyle='none', marker='P', markersize=7.5, markeredgewidth=0,
             color=c, zorder=3)

ax4.set_xlim(28, 33.5)
ax4.set_ylim(-2, 12)
ax4.set_xticks(ts_salt_ticks)
ax4.set_xticklabels([f'{v:g}' for v in ts_salt_ticks])
ax4.set_yticks(ts_temp_ticks)
ax4.set_xlabel('Salt(psu)', fontsize=17, labelpad=3)
ax4.set_ylabel('Temp(degC)', fontsize=17, labelpad=4)
style(ax4)

fig.savefig('out.png', dpi=100, facecolor='white')
